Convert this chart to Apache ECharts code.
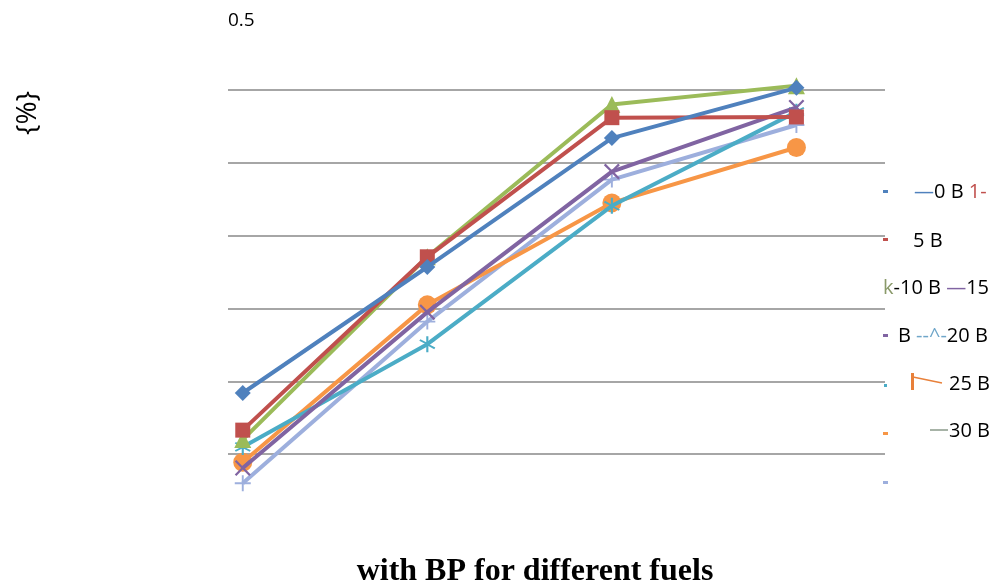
<!DOCTYPE html>
<html><head><meta charset="utf-8">
<script src="https://cdn.jsdelivr.net/npm/echarts@6/dist/echarts.min.js"></script>
<style>html,body{margin:0;padding:0;background:#fff}#c{width:995px;height:587px}</style>
</head><body><div id="c"></div>
<script>
// positions along the x axis (category index 1..4; no labels shown in the reference)
const xPositions = [1, 2, 3, 4];
const seriesNames = ['0 B', '5 B', '10 B', '15 B', '20 B', '25 B', '30 B'];
const s0B  = [0.184, 0.357, 0.534, 0.603];
const s5B  = [0.133, 0.371, 0.562, 0.563];
const s10B = [0.120, 0.371, 0.580, 0.606];
const s15B = [0.081, 0.295, 0.488, 0.576];
const s20B = [0.110, 0.251, 0.441, 0.570];
const s25B = [0.089, 0.305, 0.445, 0.521];
const s30B = [0.060, 0.282, 0.477, 0.552];
const allValues = [s0B, s5B, s10B, s15B, s20B, s25B, s30B];

const colors = ['#4F81BD', '#C0504D', '#9BBB59', '#8064A2', '#4BACC6', '#F79646', '#9DAFDD'];
const xShape = 'path://M0,1L1,0L5,4L9,0L10,1L6,5L10,9L9,10L5,6L1,10L0,9L4,5Z';
const starShape = 'path://M4.4,0L5.6,0L5.6,3.8L8.9,1.9L9.5,2.9L6.2,4.8L6.2,5.2L9.5,7.1L8.9,8.1L5.6,6.2L5.6,10L4.4,10L4.4,6.2L1.1,8.1L0.5,7.1L3.8,5.2L3.8,4.8L0.5,2.9L1.1,1.9L4.4,3.8Z';
const plusShape = 'path://M4.4,0L5.6,0L5.6,4.4L10,4.4L10,5.6L5.6,5.6L5.6,10L4.4,10L4.4,5.6L0,5.6L0,4.4L4.4,4.4Z';
const symbols = ['diamond', 'rect', 'triangle', xShape, starShape, 'circle', plusShape];
const symbolSizes = [16, 15, 17, 16, 16, 19, 16];

const chart = echarts.init(document.getElementById('c'));
const series = seriesNames.map((name, i) => ({
  name: name,
  type: 'line',
  data: xPositions.map((x, j) => [x, allValues[i][j]]),
  symbol: symbols[i],
  symbolSize: symbolSizes[i],
  showAllSymbol: true,
  clip: false,
  lineStyle: { color: colors[i], width: 4 },
  itemStyle: { color: colors[i] },
  z: 10 - i
}));

const grey = '#a6a6a6';
const legendFont = '20px "Open Sans", "Liberation Sans", sans-serif';
chart.setOption({
  animation: false,
  backgroundColor: '#ffffff',
  grid: { left: 228, right: 110, top: 90, bottom: 60 },
  xAxis: {
    type: 'value', min: 0.92, max: 4.48,
    axisLine: { show: false }, axisTick: { show: false },
    axisLabel: { show: false }, splitLine: { show: false }
  },
  yAxis: {
    type: 'value', min: 0, max: 0.6, interval: 0.1,
    axisLine: { show: false }, axisTick: { show: false },
    axisLabel: { show: false },
    splitLine: { show: true, lineStyle: { color: ['rgba(0,0,0,0)', grey, grey, grey, grey, grey, grey], width: 2 } }
  },
  series: series,
  graphic: [
    { type: 'text', x: 228, y: 21, style: { text: '0.5', font: '19px "Open Sans", "Liberation Sans", sans-serif', fill: '#000', verticalAlign: 'middle' } },
    { type: 'text', x: 28, y: 113, rotation: Math.PI / 2,
      style: { text: '{%}', font: '28px "Open Sans", "Liberation Sans", sans-serif', fill: '#000', align: 'center', verticalAlign: 'middle' } },
    { type: 'text', x: 535, y: 572,
      style: { text: 'with BP for different fuels', font: 'bold 32px "Liberation Serif", "Times New Roman", serif', fill: '#000', align: 'center', verticalAlign: 'middle' } },
    // legend remnants
    { type: 'rect', shape: { x: 883, y: 190, width: 5, height: 3 }, style: { fill: colors[0] } },
    { type: 'rect', shape: { x: 883, y: 238, width: 5, height: 3 }, style: { fill: colors[1] } },
    { type: 'rect', shape: { x: 883, y: 334, width: 5, height: 3 }, style: { fill: colors[3] } },
    { type: 'rect', shape: { x: 884, y: 384, width: 3, height: 3 }, style: { fill: colors[4] } },
    { type: 'rect', shape: { x: 883, y: 432, width: 5, height: 3 }, style: { fill: colors[5] } },
    { type: 'rect', shape: { x: 883, y: 481, width: 5, height: 3 }, style: { fill: colors[6] } },
    { type: 'text', x: 914, y: 192, style: { text: '{b|—}0 B {r|1-}', font: legendFont, fill: '#000', verticalAlign: 'middle',
      rich: { b: { fill: colors[0], font: legendFont }, r: { fill: colors[1], font: legendFont } } } },
    { type: 'text', x: 913, y: 241, style: { text: '5 B', font: legendFont, fill: '#000', verticalAlign: 'middle' } },
    { type: 'text', x: 883, y: 288, style: { text: '{g|k}-10 B {p|—}15', font: legendFont, fill: '#000', verticalAlign: 'middle',
      rich: { g: { fill: '#8a9a6a', font: legendFont }, p: { fill: colors[3], font: legendFont } } } },
    { type: 'text', x: 898, y: 336, style: { text: 'B {a|--^-}20 B', font: legendFont, fill: '#000', verticalAlign: 'middle',
      rich: { a: { fill: '#6fa6c9', font: legendFont } } } },
    { type: 'line', shape: { x1: 912.5, y1: 373, x2: 912.5, y2: 390 }, style: { stroke: '#E8803A', lineWidth: 3 } },
    { type: 'line', shape: { x1: 913, y1: 377, x2: 942, y2: 383 }, style: { stroke: '#E8803A', lineWidth: 1.5 } },
    { type: 'text', x: 949, y: 384, style: { text: '25 B', font: legendFont, fill: '#000', verticalAlign: 'middle' } },
    { type: 'line', shape: { x1: 930, y1: 430, x2: 948, y2: 430 }, style: { stroke: '#8a9a8a', lineWidth: 1.5 } },
    { type: 'text', x: 949, y: 431, style: { text: '30 B', font: legendFont, fill: '#000', verticalAlign: 'middle' } }
  ]
});
</script>
</body></html>
